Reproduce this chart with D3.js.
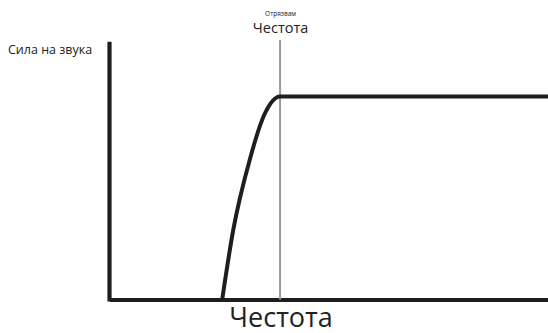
<!DOCTYPE html>
<html>
<head>
<meta charset="utf-8">
<script src="https://cdn.jsdelivr.net/npm/d3@7"></script>
<style>
  html, body { margin: 0; padding: 0; background: #fff; }
  svg { display: block; }
  text { font-family: "Open Sans", "Noto Sans", sans-serif; fill: #222; }
</style>
</head>
<body>
<svg id="chart" width="548" height="333"></svg>
<script>
// High-pass filter response: sound level vs frequency
const freq  = [25.7, 28.2, 32.0, 35.3, 38.9, 100];
const level = [0,    0.34, 0.69, 0.91, 1,    1];
const cutoff = 38.9;

const yAxisLabel = "Сила на звука";
const xAxisLabel = "Честота";
const cutoffTitle = "Честота";
const cutoffSubtitle = "Отрязвам";

const svg = d3.select("#chart");
const W = 548, H = 333;
const margin = { left: 109.5, right: 0, top: 41.7, bottom: 33.5 };

const x = d3.scaleLinear().domain([0, 100]).range([margin.left, W - margin.right]);
const y = d3.scaleLinear().domain([0, 1.27]).range([H - margin.bottom, margin.top]);

// axes without ticks, heavy strokes
const xAxis = d3.axisBottom(x).tickValues([]).tickSizeOuter(0);
const yAxis = d3.axisLeft(y).tickValues([]).tickSizeOuter(0);

svg.append("g")
  .attr("transform", `translate(0,${y(0)})`)
  .call(xAxis)
  .call(g => g.select(".domain").attr("stroke", "#1e1e1e").attr("stroke-width", 4.2));

svg.append("g")
  .attr("transform", `translate(${x(0)},0)`)
  .call(yAxis)
  .call(g => g.select(".domain").attr("stroke", "#1e1e1e").attr("stroke-width", 4.2)
    .attr("d", `M0,${y(y.domain()[1])}V${y(0) + 2.1}`));

// cutoff marker
svg.append("line")
  .attr("x1", x(cutoff)).attr("x2", x(cutoff))
  .attr("y1", 40).attr("y2", y(0))
  .attr("stroke", "#9a9a9a").attr("stroke-width", 2);

// response curve
const line = d3.line()
  .x((d, i) => x(freq[i]))
  .y((d, i) => y(level[i]))
  .curve(d3.curveMonotoneX);

svg.append("path")
  .datum(freq)
  .attr("d", line)
  .attr("fill", "none")
  .attr("stroke", "#1e1e1e")
  .attr("stroke-width", 4)
  .attr("stroke-linejoin", "round");

// labels
svg.append("text")
  .attr("x", 8).attr("y", 53.5)
  .attr("font-size", 12.5)
  .text(yAxisLabel);

svg.append("text")
  .attr("x", x(cutoff) + 0.5).attr("y", 16)
  .attr("text-anchor", "middle")
  .attr("font-size", 6.5)
  .text(cutoffSubtitle);

svg.append("text")
  .attr("x", x(cutoff) + 0.5).attr("y", 32.5)
  .attr("text-anchor", "middle")
  .attr("font-size", 14.5)
  .text(cutoffTitle);

svg.append("text")
  .attr("x", x(cutoff) + 1).attr("y", 326.5)
  .attr("text-anchor", "middle")
  .attr("font-size", 27)
  .text(xAxisLabel);
</script>
</body>
</html>
